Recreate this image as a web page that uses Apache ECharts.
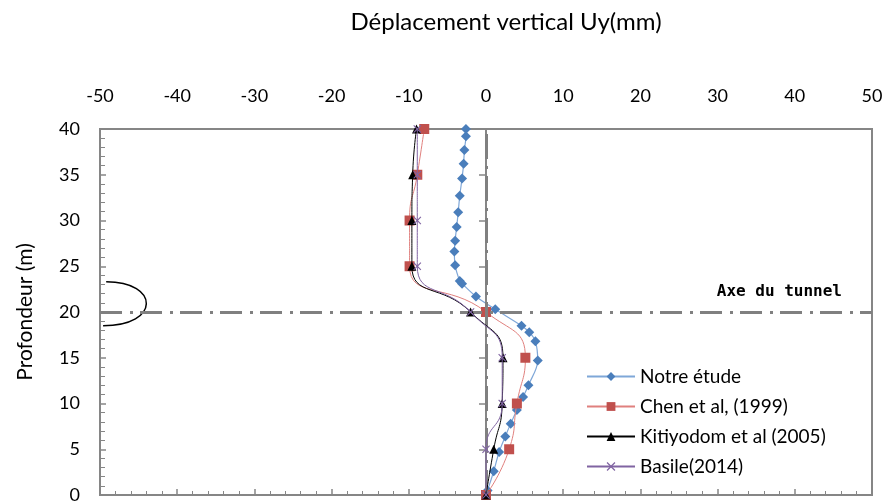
<!DOCTYPE html>
<html>
<head>
<meta charset="utf-8">
<script src="https://cdn.jsdelivr.net/npm/echarts@6/dist/echarts.min.js"></script>
<style>html,body{margin:0;padding:0;background:#fff}#c{width:885px;height:501px}</style>
</head>
<body>
<div id="c"></div>
<script>
// ---- data ----
const xTicks = [-50, -40, -30, -20, -10, 0, 10, 20, 30, 40, 50];
const yTicks = [0, 5, 10, 15, 20, 25, 30, 35, 40];
const seriesNames = ['Notre étude', 'Chen et al, (1999)', 'Kitiyodom et al (2005)', 'Basile(2014)'];

const notreDepth = [40, 39.2, 37.7, 36.2, 34.6, 32.7, 30.9, 29.3, 27.8, 26.6, 25.1, 23.4, 23.1, 21.7, 20.3, 18.5, 17.8, 16.8, 14.7, 12.0, 10.7, 9.3, 7.8, 6.4, 4.7, 2.6, 0.5, 0];
const notreUy    = [-2.6, -2.6, -2.8, -2.9, -3.1, -3.4, -3.6, -3.8, -4.0, -4.1, -4.0, -3.4, -3.1, -1.3, 1.2, 4.6, 5.6, 6.4, 6.7, 5.5, 4.8, 4.0, 3.2, 2.5, 1.7, 1.0, 0.2, 0];

const refDepth   = [40, 35, 30, 25, 20, 15, 10, 5, 0];
const chenUy     = [-8.0, -8.9, -9.9, -9.9, 0.0, 5.1, 4.0, 3.0, 0];
const kitiUy     = [-9.0, -9.5, -9.6, -9.6, -2.0, 2.2, 2.1, 1.0, 0];
const basileUy   = [-8.9, -8.9, -8.9, -8.9, -2.0, 2.1, 2.1, 0.0, 0];

const tunnelAxisDepth = 20;

// ---- chart ----
(function () {
const zip = (xs, ys) => xs.map((x, i) => [x, ys[i]]);
const FONT = 'Lato';
const AX = '#868686';
const crossPath = 'path://M0,1L1,0L5,4L9,0L10,1L6,5L10,9L9,10L5,6L1,10L0,9L4,5Z';

const chart = echarts.init(document.getElementById('c'), null, {renderer: 'canvas'});
const option = {
  animation: false,
  backgroundColor: '#fff',
  textStyle: {fontFamily: FONT},
  title: {
    text: 'Déplacement vertical Uy(mm)',
    left: 501, top: 5, textAlign: 'center',
    textStyle: {fontFamily: FONT, fontSize: 24, fontWeight: 'normal', color: '#000'}
  },
  grid: {left: 100, right: 13, top: 129, bottom: 6, containLabel: false, outerBoundsMode: 'none',
    show: true, borderColor: AX, borderWidth: 2, backgroundColor: 'transparent'},
  legend: {
    orient: 'vertical', left: 581, top: 362,
    itemWidth: 48, itemHeight: 11, itemGap: 11,
    textStyle: {fontFamily: FONT, fontSize: 19, color: '#000'},
    data: seriesNames
  },
  xAxis: {
    type: 'value', position: 'top', min: -50, max: 50, interval: 10,
    axisLine: {show: true, lineStyle: {color: AX, width: 2}},
    axisTick: {show: true, length: 6, lineStyle: {color: AX, width: 1.5}},
    minorTick: {show: true, splitNumber: 5, length: 4, lineStyle: {color: AX, width: 1}},
    splitLine: {show: false},
    axisLabel: {margin: 24, fontFamily: FONT, fontSize: 18, color: '#000',
      formatter: v => xTicks.includes(v) ? String(v) : ''}
  },
  yAxis: [{
    type: 'value', position: 'left', min: 0, max: 40, interval: 5,
    name: 'Profondeur (m)', nameLocation: 'middle', nameGap: 64, nameRotate: 90,
    nameTextStyle: {fontFamily: FONT, fontSize: 21, color: '#000'},
    axisLine: {show: true, lineStyle: {color: AX, width: 2}},
    axisTick: {show: true, length: 7, lineStyle: {color: AX, width: 1.5}},
    splitLine: {show: false},
    axisLabel: {margin: 20, fontFamily: FONT, fontSize: 18, color: '#000',
      formatter: v => yTicks.includes(v) ? String(v) : ''}
  }, {
    type: 'value', position: 'left', min: 0, max: 40, interval: 5,
    axisLine: {show: false},
    axisTick: {show: true, inside: true, length: 6, lineStyle: {color: AX, width: 1.5}},
    minorTick: {show: true, splitNumber: 5, length: 5, lineStyle: {color: AX, width: 1}},
    splitLine: {show: false},
    axisLabel: {show: false}
  }],
  series: [
    {
      name: seriesNames[0], type: 'line', smooth: 0.35,
      data: zip(notreUy, notreDepth),
      symbol: 'diamond', symbolSize: 10,
      itemStyle: {color: '#4A7EBB'},
      lineStyle: {color: '#7FA7D8', width: 1.2},
      z: 3,
      markLine: {
        silent: true, symbol: 'none', label: {show: false},
        data: [
          {xAxis: 0, lineStyle: {color: '#808080', width: 3, type: [25, 7, 3, 7]}},
          {yAxis: tunnelAxisDepth, lineStyle: {color: '#808080', width: 3, type: [22, 8, 3, 7]}}
        ]
      }
    },
    {
      name: seriesNames[1], type: 'line', smooth: 0.55,
      data: zip(chenUy, refDepth),
      symbol: 'rect', symbolSize: 10,
      itemStyle: {color: '#C0504D'},
      lineStyle: {color: '#E0807E', width: 1},
      z: 4
    },
    {
      name: seriesNames[2], type: 'line', smooth: 0.55,
      data: zip(kitiUy, refDepth),
      symbol: 'triangle', symbolSize: 9,
      itemStyle: {color: '#000'},
      lineStyle: {color: '#000', width: 1},
      z: 5
    },
    {
      name: seriesNames[3], type: 'line', smooth: 0.55,
      data: zip(basileUy, refDepth),
      symbol: crossPath, symbolSize: 8,
      itemStyle: {color: '#8064A2'},
      lineStyle: {color: '#8064A2', width: 1},
      z: 6
    }
  ]
};
chart.setOption(option);

// annotation: tunnel half-ellipse and label, positioned in data space
const p = (x, y) => chart.convertToPixel({gridIndex: 0}, [x, y]);
const arcTop = p(-49.2, 23.3), arcBot = p(-49.6, 18.5), arcTip = p(-44.0, 20.8);
const k = 4 / 3;
const labelPos = p(38.0, 22.2);
chart.setOption({
  graphic: [
    {
      type: 'bezierCurve', silent: true,
      shape: {
        x1: arcTop[0], y1: arcTop[1], x2: arcBot[0], y2: arcBot[1],
        cpx1: arcTop[0] + k * (arcTip[0] - arcTop[0]), cpy1: arcTop[1],
        cpx2: arcBot[0] + k * (arcTip[0] - arcBot[0]), cpy2: arcBot[1]
      },
      style: {stroke: '#000', lineWidth: 1.5, fill: null}
    },
    {
      type: 'text', silent: true, x: labelPos[0], y: labelPos[1],
      style: {text: 'Axe du tunnel', fontFamily: 'DejaVu Sans Mono', fontWeight: 'bold', fontSize: 16,
        fill: '#000', align: 'center', verticalAlign: 'middle'}
    }
  ]
});
})();
</script>
</body>
</html>
